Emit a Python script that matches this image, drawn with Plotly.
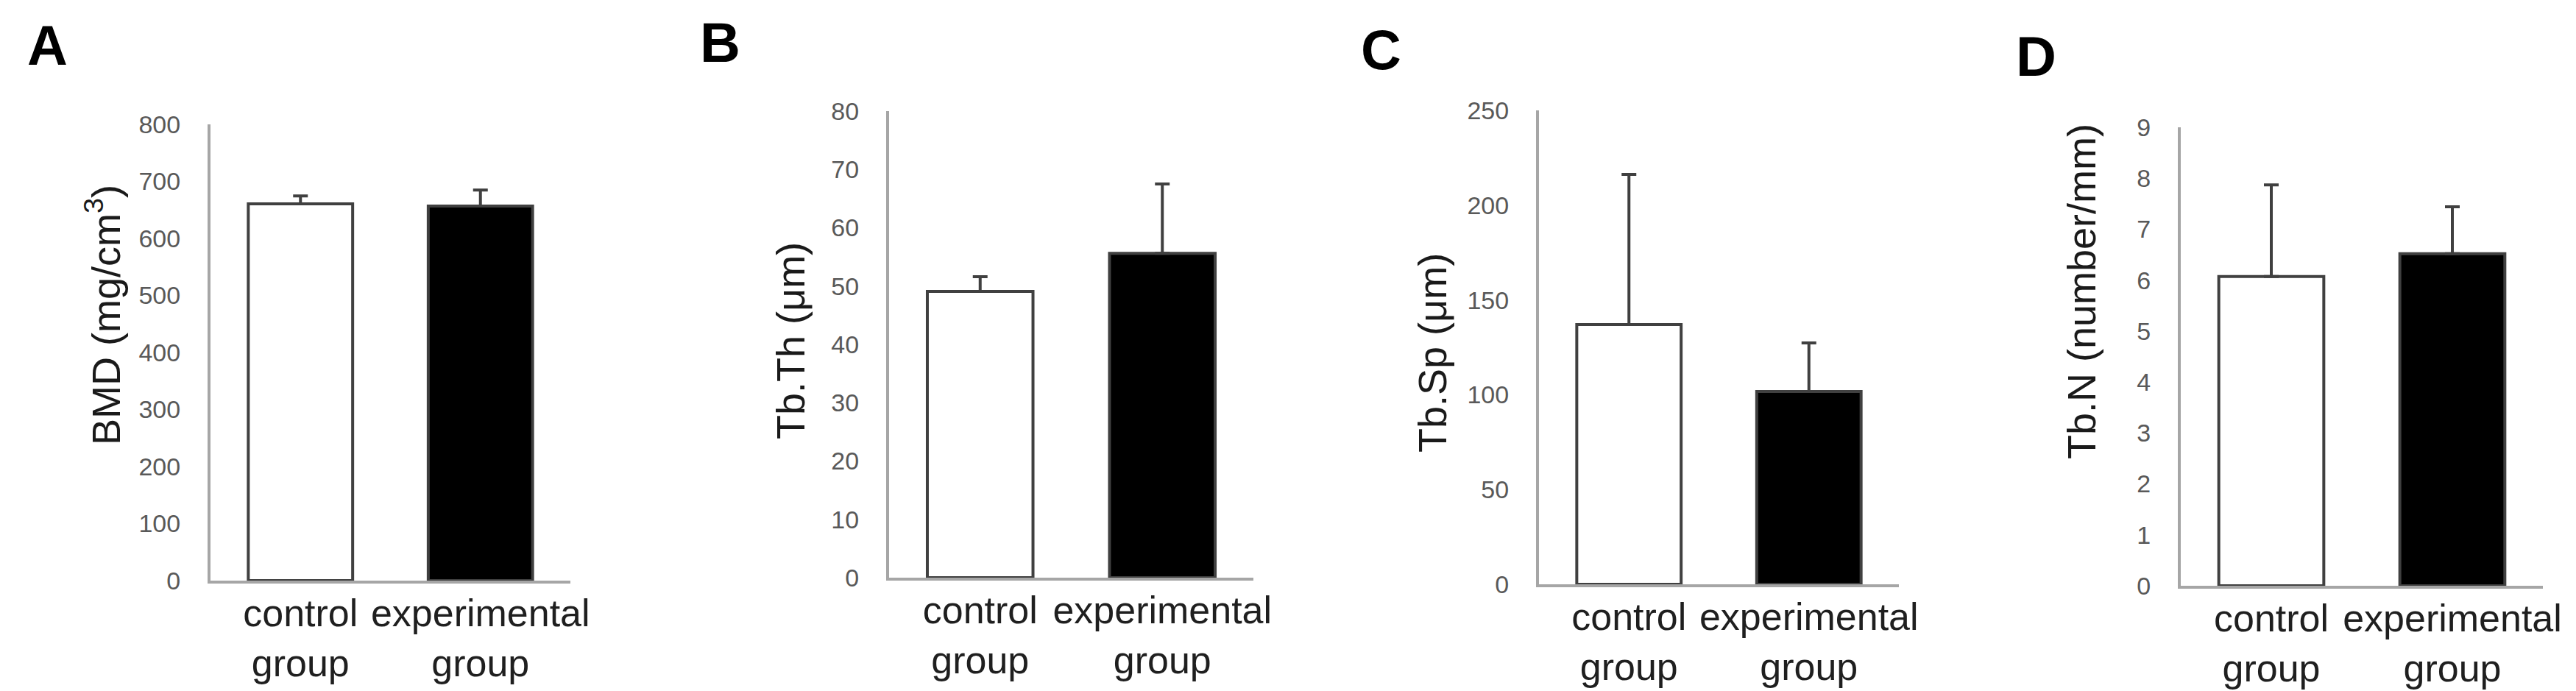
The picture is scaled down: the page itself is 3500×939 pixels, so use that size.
import plotly.graph_objects as go

W, H = 3500, 939

# ---- data ----
categories = ["control group", "experimental group"]
tick_labels = ["control<br>group", "experimental<br>group"]
bar_fills = ["white", "black"]

bmd_mean = [660.6, 656.8]
bmd_err = [14.0, 28.0]
tbth_mean = [49.1, 55.6]
tbth_err = [2.5, 11.9]
tbsp_mean = [137.0, 101.7]
tbsp_err = [79.2, 25.6]
tbn_mean = [6.07, 6.52]
tbn_err = [1.80, 0.92]

panel_letters = ["A", "B", "C", "D"]
y_titles = ["BMD (mg/cm<sup>3</sup>)", "Tb.Th (μm)", "Tb.Sp (μm)", "Tb.N (number/mm)"]
y_ranges = [[0, 800], [0, 80], [0, 250], [0, 9]]
y_dticks = [100, 10, 50, 1]
means = [bmd_mean, tbth_mean, tbsp_mean, tbn_mean]
errs = [bmd_err, tbth_err, tbsp_err, tbn_err]

# ---- layout geometry (pixels) ----
boxes = [(278, 767, 161, 781), (1200, 1695, 143, 777),
         (2083, 2572, 142, 786), (2955, 3447, 165, 788)]
letter_pos = [(56, 54), (970, 50), (1868, 60), (2758, 68)]
ytitle_pos = [(132, 420), (1066, 455), (1938, 472), (2820, 388)]

FONT = "Liberation Sans, Arial, sans-serif"
AXIS_GRAY = "#A6A6A6"
EDGE = "#404040"

fig = go.Figure()
annotations = []
for i in range(4):
    sfx = "" if i == 0 else str(i + 1)
    fig.add_trace(go.Bar(
        x=categories, y=means[i],
        marker=dict(color=bar_fills, line=dict(color=EDGE, width=4)),
        width=0.58,
        error_y=dict(type="data", symmetric=False, array=errs[i], arrayminus=[0, 0],
                     color=EDGE, thickness=4, width=10),
        xaxis="x" + sfx, yaxis="y" + sfx, showlegend=False,
    ))
    l, r, t, b = boxes[i]
    fig.update_layout(**{
        "xaxis" + sfx: dict(
            domain=[l / W, r / W], anchor="y" + sfx,
            type="category", range=[-0.5, 1.5],
            tickvals=categories, ticktext=tick_labels,
            showline=True, linecolor=AXIS_GRAY, linewidth=4,
            showgrid=False, zeroline=False, ticks="",
            tickfont=dict(family=FONT, size=52, color="#1f1f1f"),
            ticklabelstandoff=-4, automargin=False,
        ),
        "yaxis" + sfx: dict(
            domain=[1 - b / H, 1 - t / H], anchor="x" + sfx,
            range=y_ranges[i], dtick=y_dticks[i], tick0=0,
            showline=True, linecolor=AXIS_GRAY, linewidth=4,
            showgrid=False, zeroline=False, ticks="",
            tickfont=dict(family=FONT, size=34, color="#595959"),
            ticklabelstandoff=30, automargin=False,
        ),
    })
    lx, ly = letter_pos[i]
    annotations.append(dict(
        text="<b>%s</b>" % panel_letters[i], x=lx / W, y=1 - ly / H,
        xref="paper", yref="paper", xanchor="center", yanchor="middle",
        showarrow=False, font=dict(family=FONT, size=76, color="black"),
    ))
    tx, ty = ytitle_pos[i]
    annotations.append(dict(
        text=y_titles[i], x=tx / W, y=1 - ty / H, textangle=-90,
        xref="paper", yref="paper", xanchor="center", yanchor="middle",
        showarrow=False, font=dict(family=FONT, size=54, color="#1a1a1a"),
    ))

fig.update_layout(
    width=W, height=H,
    margin=dict(l=0, r=0, t=0, b=0),
    paper_bgcolor="white", plot_bgcolor="white",
    annotations=annotations,
)

fig.write_html("out.html")
